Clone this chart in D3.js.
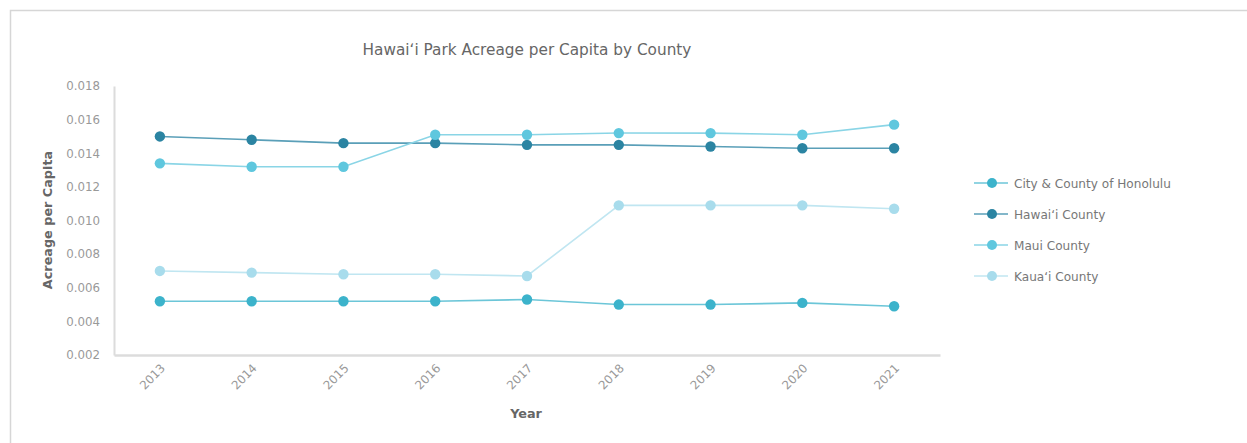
<!DOCTYPE html>
<html>
<head>
<meta charset="utf-8">
<script src="https://cdn.jsdelivr.net/npm/d3@7"></script>
<style>
  html, body { margin: 0; padding: 0; background: #fff; }
  svg { display: block; font-family: "DejaVu Sans", Verdana, sans-serif; }
</style>
</head>
<body>
<svg id="chart" width="1247" height="443"></svg>
<script>
const years = ["2013","2014","2015","2016","2017","2018","2019","2020","2021"];
const seriesNames = ["City & County of Honolulu","Hawai\u02BBi County","Maui County","Kaua\u02BBi County"];
const honolulu = [0.0052,0.0052,0.0052,0.0052,0.0053,0.0050,0.0050,0.0051,0.0049];
const hawaii   = [0.0150,0.0148,0.0146,0.0146,0.0145,0.0145,0.0144,0.0143,0.0143];
const maui     = [0.0134,0.0132,0.0132,0.0151,0.0151,0.0152,0.0152,0.0151,0.0157];
const kauai    = [0.0070,0.0069,0.0068,0.0068,0.0067,0.0109,0.0109,0.0109,0.0107];
const yTicks = [0.002,0.004,0.006,0.008,0.010,0.012,0.014,0.016,0.018];
const colors = ["#3cb3cb","#2b84a2","#5fc7de","#a8dcec"];
const lineColors = ["#6cc6d8","#5a9fb8","#8ad5e6","#c0e6f1"];

const series = [honolulu, hawaii, maui, kauai];

const svg = d3.select("#chart");

// outer frame
svg.append("rect").attr("x", 10.5).attr("y", 10.5).attr("width", 1260).attr("height", 460)
  .attr("fill", "none").attr("stroke", "#d6d6d6").attr("stroke-width", 1.5);

const plotLeft = 114, plotRight = 940, plotTop = 86, plotBottom = 355;

const x = d3.scaleBand().domain(years).range([plotLeft, plotRight]);
const y = d3.scaleLinear().domain([0.002, 0.018]).range([plotBottom, plotTop]);

// title
svg.append("text").attr("x", 527).attr("y", 55).attr("text-anchor", "middle")
  .attr("font-size", 15.3).attr("fill", "#666").text("Hawai\u02BBi Park Acreage per Capita by County");

// y axis
const yAxis = svg.append("g").attr("transform", `translate(${plotLeft},0)`)
  .call(d3.axisLeft(y).tickValues(yTicks).tickFormat(d3.format(".3f")).tickSize(0).tickPadding(14));
yAxis.select(".domain").attr("stroke", "#dcdcdc").attr("stroke-width", 2);
yAxis.selectAll("text").attr("font-size", 11.8).attr("fill", "#999").attr("font-family", "DejaVu Sans, Verdana, sans-serif");

// x axis
const xAxis = svg.append("g").attr("transform", `translate(0,${plotBottom})`)
  .call(d3.axisBottom(x).tickSize(0).tickPadding(0));
xAxis.select(".domain").attr("stroke", "#dcdcdc").attr("stroke-width", 2.5);
xAxis.selectAll("text")
  .attr("font-size", 11.8).attr("fill", "#999").attr("font-family", "DejaVu Sans, Verdana, sans-serif")
  .attr("text-anchor", "end").attr("dy", 0)
  .attr("transform", "translate(6,14) rotate(-45)");

// axis titles
svg.append("text").attr("transform", "translate(52,220) rotate(-90)").attr("text-anchor", "middle")
  .attr("font-size", 12.8).attr("font-weight", "bold").attr("fill", "#666").text("Acreage per Capita");
svg.append("text").attr("x", 526).attr("y", 418).attr("text-anchor", "middle")
  .attr("font-size", 12.8).attr("font-weight", "bold").attr("fill", "#666").text("Year");

const line = d3.line().x((d, i) => x(years[i]) + x.bandwidth() / 2).y(d => y(d));

series.forEach((vals, si) => {
  const g = svg.append("g");
  g.append("path").datum(vals).attr("d", line).attr("fill", "none")
    .attr("stroke", lineColors[si]).attr("stroke-width", 1.6);
  g.selectAll("circle").data(vals).join("circle")
    .attr("cx", (d, i) => x(years[i]) + x.bandwidth() / 2)
    .attr("cy", d => y(d)).attr("r", 5.2).attr("fill", colors[si]);
});

// legend
const legend = svg.append("g").attr("transform", "translate(974,183)");
seriesNames.forEach((name, i) => {
  const row = legend.append("g").attr("transform", `translate(0,${i * 31})`);
  row.append("line").attr("x1", 0).attr("x2", 34).attr("y1", 0).attr("y2", 0)
    .attr("stroke", lineColors[i]).attr("stroke-width", 1.6);
  row.append("circle").attr("cx", 18).attr("cy", 0).attr("r", 5).attr("fill", colors[i]);
  row.append("text").attr("x", 40).attr("y", 4.5).attr("font-size", 12.1).attr("fill", "#777").text(name);
});
</script>
</body>
</html>
